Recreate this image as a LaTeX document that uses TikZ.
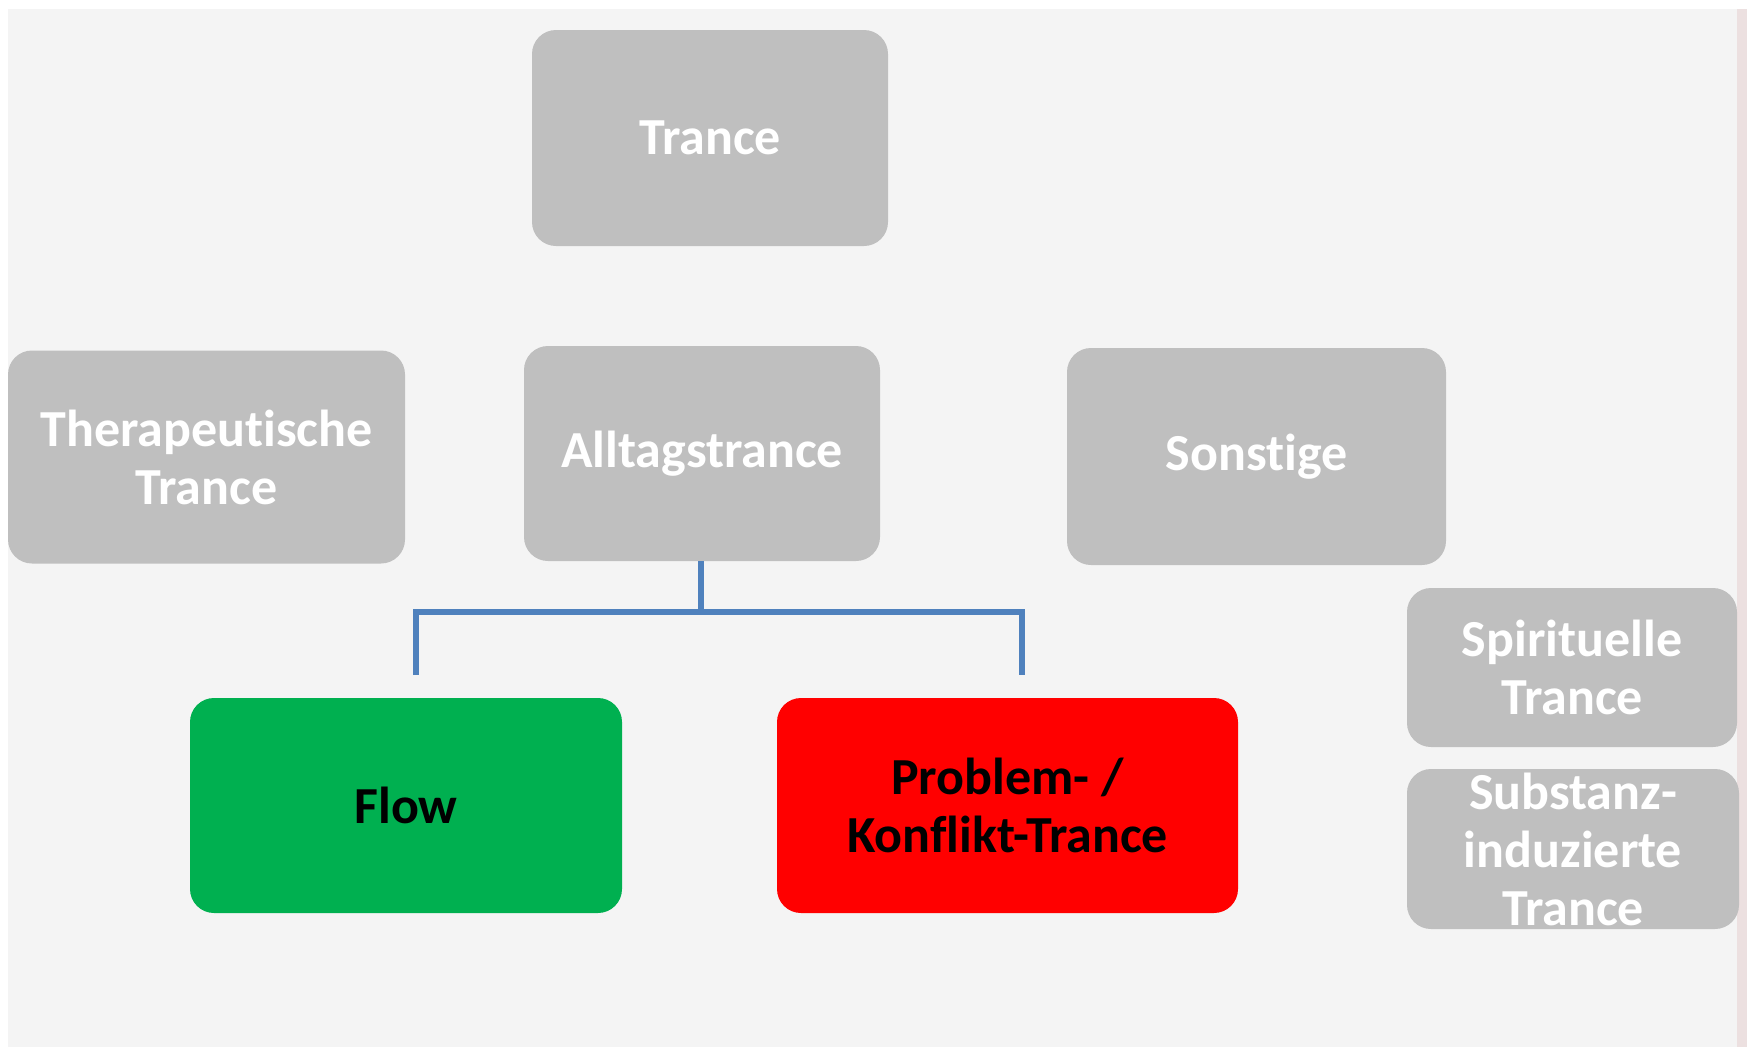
\documentclass[tikz,border=0pt]{standalone}
\usepackage{fontspec}
\setmainfont[Ligatures={NoCommon}, Contextuals={NoAlternate}]{Carlito}
\usepackage{tikz}
\usetikzlibrary{positioning}
\definecolor{pagebg}{RGB}{244, 244, 244}
\definecolor{edgecolor}{RGB}{236, 224, 224}
\definecolor{boxgray}{RGB}{191, 191, 191}
\definecolor{flowgreen}{RGB}{0, 176, 80}
\definecolor{conflictred}{RGB}{255, 0, 0}
\definecolor{linkblue}{RGB}{79, 129, 189}

\begin{document}
\begin{tikzpicture}[x=1pt, y=-1pt,
  every node/.style={font=\fontsize{52}{58}\selectfont\bfseries, align=center, inner sep=0pt},
  box/.style={fill=boxgray, text=white, rounded corners=24pt},
  conn/.style={draw=linkblue, line width=5.5pt}]
  \useasboundingbox (0,0) rectangle (1750,1047);

  % Background
  \fill[pagebg] (8,9) rectangle (1737,1047);
  \fill[edgecolor] (1737,9) rectangle (1747,1047);

  % Top level
  \node[box, minimum width=356pt, minimum height=216pt] (trance) at (710,138) {Trance};

  % Second level
  \node[box, minimum width=397pt, minimum height=213pt] (thera) at (206.5,457) {Therapeutische\\Trance};
  \node[box, minimum width=356pt, minimum height=215pt] (alltag) at (702,453.5) {Alltagstrance};
  \node[box, minimum width=379pt, minimum height=217pt] (sonst) at (1256.5,456.5) {Sonstige};

  % Sonstige entries
  \node[box, minimum width=330pt, minimum height=159pt] (spirit) at (1572,667.5) {Spirituelle\\Trance};
  \node[box, minimum width=332pt, minimum height=160pt,
    label={[text=white, align=center]center:Substanz-\\induzierte\\Trance}] (subst) at (1573,849) {};

  % Alltagstrance entries
  \node[box, fill=flowgreen, text=black, minimum width=432pt, minimum height=215pt] (flow) at (406,805.5) {Flow};
  \node[box, fill=conflictred, text=black, minimum width=461pt, minimum height=215pt] (konflikt) at (1007.5,805.5) {Problem- /\\Konflikt-Trance};

  % Connector
  \coordinate (fork) at (701,612);
  \coordinate (flowtop) at (416,675);
  \coordinate (konflikttop) at (1022,675);
  \draw[conn] (alltag.south -| fork) -- (fork);
  \draw[conn] (flowtop) |- (fork) -| (konflikttop);
\end{tikzpicture}
\end{document}
